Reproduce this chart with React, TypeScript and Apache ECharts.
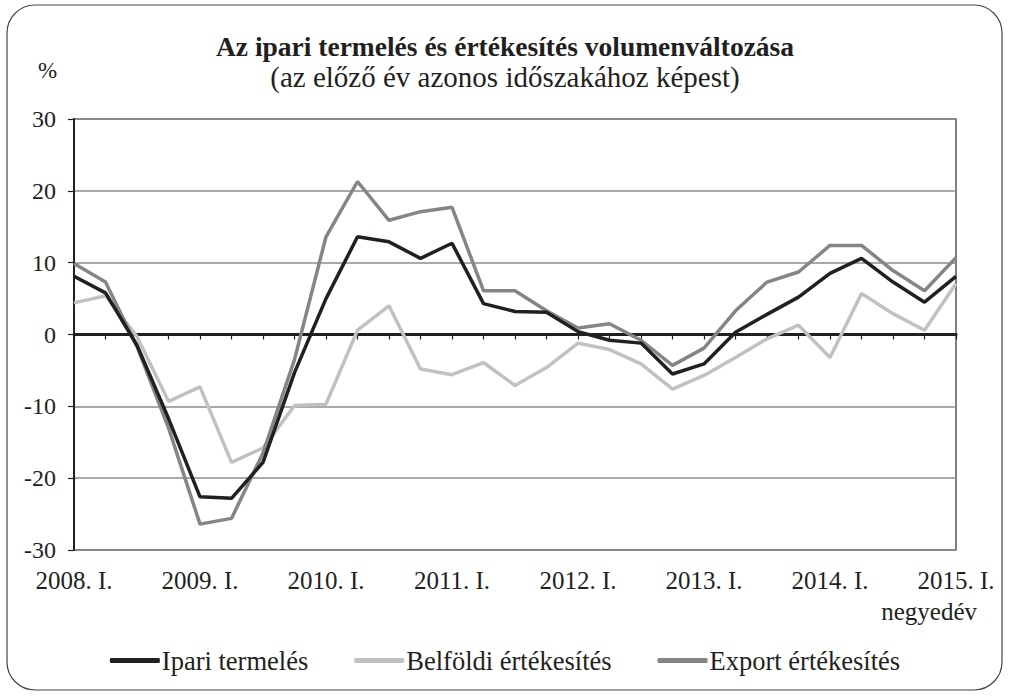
import React, { useEffect, useRef } from "react";
import * as echarts from "echarts";

const categories = [
  "2008. I.", "2008. II.", "2008. III.", "2008. IV.",
  "2009. I.", "2009. II.", "2009. III.", "2009. IV.",
  "2010. I.", "2010. II.", "2010. III.", "2010. IV.",
  "2011. I.", "2011. II.", "2011. III.", "2011. IV.",
  "2012. I.", "2012. II.", "2012. III.", "2012. IV.",
  "2013. I.", "2013. II.", "2013. III.", "2013. IV.",
  "2014. I.", "2014. II.", "2014. III.", "2014. IV.",
  "2015. I.",
];

const ipari = [8.1, 5.8, -1.5, -11.7, -22.6, -22.8, -17.8, -5.3, 5.0, 13.6, 12.9, 10.6, 12.7, 4.3, 3.2, 3.1, 0.4, -0.8, -1.2, -5.5, -4.1, 0.3, 2.8, 5.2, 8.5, 10.6, 7.3, 4.5, 8.1];
const belfoldi = [4.4, 5.4, -0.3, -9.3, -7.3, -17.8, -15.8, -9.9, -9.7, 0.6, 4.0, -4.8, -5.6, -3.9, -7.1, -4.6, -1.2, -2.1, -4.1, -7.6, -5.7, -3.2, -0.6, 1.3, -3.2, 5.7, 2.9, 0.6, 7.1];
const exportErt = [9.9, 7.3, -1.7, -13.0, -26.4, -25.6, -16.5, -3.5, 13.6, 21.3, 15.9, 17.1, 17.7, 6.1, 6.1, 3.3, 0.9, 1.5, -0.8, -4.3, -1.9, 3.3, 7.3, 8.7, 12.4, 12.4, 8.9, 6.1, 10.7];

const seriesNames = ["Ipari termelés", "Belföldi értékesítés", "Export értékesítés"];

const FONT = "Liberation Serif";

export default function App() {
  const ref = useRef<HTMLDivElement>(null);
  useEffect(() => {
    if (!ref.current) return;
    const chart = echarts.init(ref.current, null, { renderer: "svg" });
    chart.setOption({
      animation: false,
      backgroundColor: "#ffffff",
      textStyle: { fontFamily: FONT, color: "#231f20" },
      title: [
        {
          text: "Az ipari termelés és értékesítés volumenváltozása",
          left: "center",
          top: 27,
          textStyle: { fontFamily: FONT, fontSize: 27.5, fontWeight: "bold", color: "#231f20" },
        },
        {
          text: "(az előző év azonos időszakához képest)",
          left: "center",
          top: 57,
          textStyle: { fontFamily: FONT, fontSize: 29, fontWeight: "normal", color: "#231f20" },
        },
      ],
      graphic: [
        {
          type: "rect",
          shape: { x: 7, y: 5, width: 995, height: 685, r: 28 },
          style: { fill: "none", stroke: "#444", lineWidth: 1.2 },
          silent: true,
        },
        {
          type: "text",
          left: 38,
          top: 59,
          style: { text: "%", fontFamily: FONT, fontSize: 23, fill: "#231f20" },
        },
        {
          type: "text",
          right: 33,
          top: 599,
          style: { text: "negyedév", fontFamily: FONT, fontSize: 25, fill: "#231f20" },
        },
      ],
      legend: {
        data: seriesNames,
        bottom: 18,
        left: "center",
        itemWidth: 50,
        itemHeight: 5,
        itemGap: 46,
        icon: "roundRect",
        textStyle: { fontFamily: FONT, fontSize: 26.5, color: "#231f20", padding: [0, 0, 0, -3] },
      },
      grid: {
        left: 74,
        right: 54,
        top: 119,
        bottom: 147,
        show: true,
        borderColor: "#555",
        borderWidth: 1.5,
      },
      xAxis: [
        {
          type: "category",
          data: categories,
          boundaryGap: false,
          axisLine: { onZero: true, lineStyle: { color: "#231f20", width: 3 } },
          axisTick: { show: true, interval: 0, inside: false, length: 5, lineStyle: { color: "#231f20", width: 1.2 } },
          axisLabel: { show: false },
          splitLine: { show: false },
        },
        {
          type: "category",
          data: categories,
          boundaryGap: false,
          position: "bottom",
          axisLine: { show: false, onZero: false },
          axisTick: { show: false },
          axisLabel: {
            show: true,
            interval: 3,
            margin: 18,
            fontFamily: FONT,
            fontSize: 25,
            color: "#231f20",
          },
          splitLine: { show: false },
        },
      ],
      yAxis: {
        type: "value",
        min: -30,
        max: 30,
        interval: 10,
        axisLine: { show: true, lineStyle: { color: "#231f20", width: 2 } },
        axisTick: { show: true, length: 6, lineStyle: { color: "#231f20", width: 1.2 } },
        axisLabel: { fontFamily: FONT, fontSize: 24, color: "#231f20", margin: 18 },
        splitLine: { show: true, lineStyle: { color: "#8c8c8c", width: 1.5 } },
      },
      series: [
        {
          name: seriesNames[1],
          type: "line",
          data: belfoldi,
          symbol: "none",
          lineStyle: { color: "#c1c1c3", width: 3.5 },
          itemStyle: { color: "#c1c1c3" },
          z: 2,
        },
        {
          name: seriesNames[2],
          type: "line",
          data: exportErt,
          symbol: "none",
          lineStyle: { color: "#858587", width: 3.5 },
          itemStyle: { color: "#858587" },
          z: 3,
        },
        {
          name: seriesNames[0],
          type: "line",
          data: ipari,
          symbol: "none",
          lineStyle: { color: "#231f20", width: 3.5 },
          itemStyle: { color: "#231f20" },
          z: 4,
        },
      ],
    });
    return () => chart.dispose();
  }, []);
  return (
    <div
      ref={ref}
      style={{ position: "fixed", left: 0, top: 0, width: 1010, height: 697 }}
    />
  );
}
